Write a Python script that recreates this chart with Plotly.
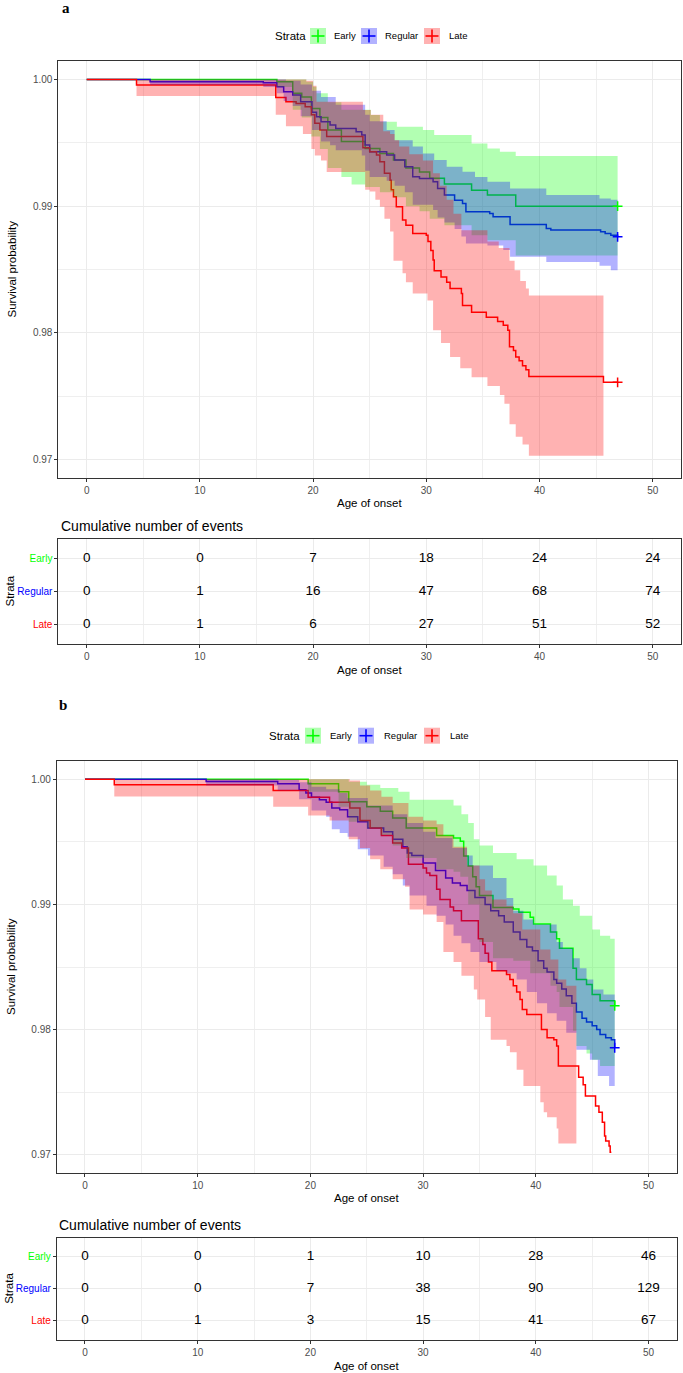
import plotly.graph_objects as go

# ======================= DATA =======================
table_times = [0, 10, 20, 30, 40, 50]
strata_names = ["Early", "Regular", "Late"]

# ---------- panel a : Kaplan-Meier estimates ----------
a_early_t = [0, 16.8, 18.2, 19.0, 19.85, 20.6, 21.3, 22.5, 24.6, 25.9, 27.1, 28.2, 29.4, 30.3, 31.6, 34.0, 35.4, 37.9, 46.9]
a_early_s = [1.0, 0.99982, 0.9989, 0.9986, 0.9977, 0.997, 0.996, 0.9951, 0.99455, 0.99416, 0.99363, 0.993, 0.9927, 0.9922, 0.99174, 0.99126, 0.99087, 0.990, 0.990]
a_early_hi_t = [0, 19.4, 20.0, 20.3, 21.3, 22.5, 25.1, 25.9, 27.4, 29.7, 30.7, 34.0, 35.4, 36.5, 37.9, 46.9]
a_early_hi_s = [1.0, 0.99982, 0.99942, 0.9989, 0.9982, 0.9976, 0.99718, 0.99666, 0.99626, 0.996, 0.99561, 0.99495, 0.99455, 0.99429, 0.99395, 0.99395]
a_early_lo_t = [0, 16.8, 18.2, 19.0, 19.85, 20.6, 21.3, 22.5, 23.4, 24.6, 25.9, 27.1, 28.2, 29.4, 30.3, 31.6, 34.0, 35.4, 37.9, 46.9]
a_early_lo_s = [1.0, 0.9994, 0.9976, 0.997, 0.9955, 0.9945, 0.993, 0.9923, 0.9917, 0.9915, 0.9911, 0.9907, 0.990, 0.9896, 0.989, 0.9885, 0.9877, 0.9873, 0.9861, 0.9861]

a_regular_t = [0, 5.6, 15.6, 16.8, 17.4, 18.2, 18.9, 19.9, 20.3, 20.7, 21.5, 22.0, 23.8, 24.3, 24.6, 25.0, 26.5, 27.2, 28.1, 28.8, 29.4, 30.6, 31.0, 31.6, 32.5, 33.2, 33.5, 35.6, 35.9, 37.4, 40.6, 41.0, 45.4, 45.8, 46.3, 46.9]
a_regular_s = [1.0, 0.99982, 0.99974, 0.99942, 0.99903, 0.99876, 0.99824, 0.9974, 0.99705, 0.99666, 0.9964, 0.99613, 0.99587, 0.99561, 0.99482, 0.99429, 0.99403, 0.99363, 0.99311, 0.99232, 0.99218, 0.99192, 0.9914, 0.99087, 0.99047, 0.99021, 0.98955, 0.98942, 0.98916, 0.98855, 0.98824, 0.98811, 0.98797, 0.98784, 0.98771, 0.98758]
a_regular_hi_t = [0, 17.6, 18.9, 19.9, 20.7, 22.0, 24.6, 25.0, 26.5, 27.2, 28.8, 29.7, 30.7, 31.8, 33.2, 34.3, 35.4, 37.4, 40.6, 45.3, 46.3, 46.9]
a_regular_hi_s = [1.0, 0.9999, 0.9996, 0.9991, 0.9986, 0.998, 0.9972, 0.9967, 0.996, 0.9952, 0.9947, 0.99416, 0.99363, 0.9931, 0.99271, 0.9923, 0.99192, 0.9914, 0.99087, 0.9906, 0.9905, 0.9905]
a_regular_lo_t = [0, 5.6, 15.6, 16.8, 17.4, 18.2, 18.9, 19.9, 20.7, 21.5, 22.0, 24.3, 24.6, 25.0, 26.5, 27.2, 28.1, 28.8, 30.6, 31.0, 31.6, 32.5, 33.1, 33.5, 35.4, 36.8, 37.4, 40.6, 45.3, 46.3, 46.9]
a_regular_lo_s = [1.0, 0.99955, 0.9994, 0.9989, 0.9983, 0.9979, 0.9971, 0.996, 0.9951, 0.9948, 0.9944, 0.994, 0.9928, 0.9923, 0.992, 0.9916, 0.9911, 0.9901, 0.9897, 0.9891, 0.9887, 0.9882, 0.9876, 0.98705, 0.9869, 0.98653, 0.986, 0.9856, 0.9853, 0.98495, 0.98495]

a_late_t = [0, 4.4, 16.7, 17.6, 18.5, 19.3, 19.85, 20.15, 20.6, 21.2, 24.4, 25.0, 25.6, 25.9, 26.3, 26.8, 26.9, 27.1, 27.35, 27.9, 28.2, 28.8, 30.0, 30.15, 30.4, 30.6, 30.7, 31.3, 31.8, 32.1, 33.1, 33.2, 34.0, 35.3, 36.3, 36.8, 37.2, 37.35, 37.7, 37.9, 38.2, 38.5, 38.8, 39.06, 45.65, 46.9]
a_late_s = [1.0, 0.99955, 0.99858, 0.99824, 0.9981, 0.99784, 0.9972, 0.99653, 0.996, 0.9955, 0.9946, 0.99429, 0.99403, 0.9935, 0.9926, 0.99205, 0.9913, 0.99074, 0.98995, 0.9889, 0.9885, 0.98784, 0.9877, 0.9872, 0.9865, 0.98574, 0.9849, 0.9844, 0.984, 0.9835, 0.9831, 0.98216, 0.98163, 0.98124, 0.9809, 0.9806, 0.9802, 0.9789, 0.9786, 0.9781, 0.9778, 0.9774, 0.9771, 0.97655, 0.9761, 0.9761]
a_late_hi_t = [0, 19.4, 20.0, 20.3, 24.4, 25.1, 26.2, 26.8, 27.2, 27.6, 28.5, 29.7, 30.6, 31.2, 31.8, 32.4, 33.1, 35.4, 36.4, 37.35, 37.8, 38.3, 38.8, 39.06, 45.65]
a_late_hi_s = [1.0, 0.9999, 0.9995, 0.99824, 0.99758, 0.9972, 0.9959, 0.9957, 0.9952, 0.9947, 0.9941, 0.9936, 0.9926, 0.9916, 0.9905, 0.9894, 0.9881, 0.9872, 0.9867, 0.9857, 0.98495, 0.9841, 0.9835, 0.98295, 0.98295]
a_late_lo_t = [0, 4.4, 16.7, 17.6, 19.1, 19.85, 20.15, 20.7, 21.2, 24.6, 25.0, 25.5, 25.9, 26.3, 26.8, 27.1, 27.9, 28.2, 28.8, 30.1, 30.6, 31.3, 32.1, 33.0, 34.0, 35.4, 36.5, 36.9, 37.35, 37.9, 38.5, 39.06, 45.65]
a_late_lo_s = [1.0, 0.99868, 0.9972, 0.9963, 0.9957, 0.9945, 0.994, 0.9936, 0.9927, 0.9913, 0.99115, 0.9905, 0.98995, 0.989, 0.988, 0.9857, 0.9847, 0.984, 0.9831, 0.98255, 0.9802, 0.9792, 0.9781, 0.9772, 0.9765, 0.9758, 0.9751, 0.9744, 0.9728, 0.9718, 0.9712, 0.9703, 0.9703]

a_cens_early_t, a_cens_early_s = [46.9], [0.990]
a_cens_regular_t, a_cens_regular_s = [46.9], [0.98758]
a_cens_late_t, a_cens_late_s = [46.9], [0.9761]

a_events_early = [0, 0, 7, 18, 24, 24]
a_events_regular = [0, 1, 16, 47, 68, 74]
a_events_late = [0, 1, 6, 27, 51, 52]

# ---------- panel b : Kaplan-Meier estimates ----------
b_early_t = [0, 19.8, 22.5, 23.4, 25.0, 26.2, 27.3, 28.5, 31.2, 32.7, 33.3, 33.6, 34.0, 34.4, 34.7, 35.0, 36.2, 38.0, 38.5, 39.5, 39.8, 41.3, 41.85, 42.1, 43.3, 43.6, 44.5, 45.0, 45.7, 47.0]
b_early_s = [1.0, 0.99963, 0.999, 0.9982, 0.9978, 0.99743, 0.9969, 0.9961, 0.9955, 0.9953, 0.99505, 0.99386, 0.99307, 0.9922, 0.9914, 0.9907, 0.98976, 0.98963, 0.98937, 0.98897, 0.98844, 0.9878, 0.98725, 0.9865, 0.9849, 0.984, 0.9836, 0.9828, 0.9823, 0.9819]
b_early_hi_t = [0, 22.5, 23.4, 25.0, 26.2, 27.8, 28.8, 32.7, 33.4, 34.0, 34.5, 35.0, 36.2, 38.3, 39.8, 41.0, 41.85, 42.4, 43.3, 43.9, 45.0, 45.7, 46.6, 47.0]
b_early_hi_s = [1.0, 1.0, 0.9998, 0.99955, 0.9993, 0.999, 0.99836, 0.9979, 0.9972, 0.9965, 0.9952, 0.9947, 0.9941, 0.9936, 0.9931, 0.9923, 0.9915, 0.9904, 0.9899, 0.9891, 0.988, 0.9875, 0.98725, 0.98725]
b_early_lo_t = [0, 19.8, 22.5, 23.4, 25.0, 26.2, 27.3, 28.5, 31.2, 32.7, 33.3, 34.0, 35.0, 36.2, 38.0, 39.5, 41.3, 41.85, 42.1, 43.3, 43.6, 44.5, 45.0, 45.7, 47.0]
b_early_lo_s = [1.0, 0.999, 0.9978, 0.9966, 0.99605, 0.99555, 0.9947, 0.9937, 0.9928, 0.9926, 0.9922, 0.990, 0.987, 0.9857, 0.9855, 0.9845, 0.9835, 0.983, 0.9818, 0.9799, 0.9787, 0.9781, 0.9776, 0.9771, 0.9766]

b_regular_t = [0, 10.75, 17.1, 19.0, 19.6, 20.1, 20.8, 21.4, 21.9, 22.6, 23.3, 24.2, 25.1, 26.5, 27.3, 28.2, 28.6, 29.0, 30.0, 31.1, 32.0, 32.6, 33.3, 33.9, 34.6, 35.5, 36.0, 36.7, 37.2, 38.0, 38.6, 39.2, 39.7, 40.2, 40.7, 41.0, 41.6, 41.85, 42.3, 42.7, 43.2, 43.6, 44.1, 44.5, 45.0, 45.4, 45.7, 46.2, 46.7, 47.0]
b_regular_s = [1.0, 0.99981, 0.99963, 0.99915, 0.9989, 0.99855, 0.99835, 0.99815, 0.9977, 0.99755, 0.997, 0.9966, 0.9961, 0.9958, 0.9952, 0.9946, 0.9941, 0.9939, 0.9933, 0.9927, 0.9921, 0.9917, 0.9915, 0.9911, 0.99055, 0.990, 0.9895, 0.9891, 0.9886, 0.9878, 0.9872, 0.9866, 0.9863, 0.9855, 0.9849, 0.9846, 0.984, 0.9837, 0.98325, 0.9827, 0.9821, 0.9814, 0.9809, 0.9806, 0.9803, 0.980, 0.9796, 0.97935, 0.9792, 0.97855]
b_regular_hi_t = [0, 17.1, 19.0, 20.1, 21.4, 22.6, 23.3, 25.1, 27.3, 28.6, 30.0, 31.1, 32.6, 33.9, 34.4, 36.2, 37.4, 38.0, 38.9, 39.8, 41.85, 42.4, 43.3, 43.9, 44.5, 45.1, 46.0, 47.0]
b_regular_hi_s = [1.0, 0.99995, 0.99975, 0.9994, 0.9992, 0.9989, 0.9985, 0.9979, 0.9972, 0.9965, 0.9958, 0.9953, 0.9945, 0.9939, 0.9931, 0.9921, 0.9905, 0.9895, 0.9888, 0.9884, 0.987, 0.9865, 0.9857, 0.9849, 0.984, 0.9832, 0.9828, 0.9824]
b_regular_lo_t = [0, 10.75, 17.1, 19.0, 20.1, 21.4, 21.9, 22.6, 23.3, 24.2, 25.1, 26.5, 27.3, 28.2, 28.8, 30.3, 31.2, 32.0, 32.7, 33.4, 34.2, 35.0, 36.5, 37.4, 38.3, 39.2, 40.1, 41.0, 41.85, 42.7, 43.6, 44.8, 45.5, 46.5, 47.0]
b_regular_lo_s = [1.0, 0.9995, 0.9991, 0.9984, 0.9975, 0.997, 0.996, 0.9957, 0.9954, 0.9944, 0.9939, 0.993, 0.9924, 0.9915, 0.9907, 0.9899, 0.9891, 0.9884, 0.9875, 0.9869, 0.9862, 0.9854, 0.9847, 0.9845, 0.984, 0.983, 0.9821, 0.9813, 0.9807, 0.97975, 0.9784, 0.9776, 0.9763, 0.9755, 0.9754]

b_late_t = [0, 2.6, 16.7, 19.8, 21.7, 23.5, 24.4, 25.3, 26.3, 27.3, 28.1, 28.7, 30.0, 30.3, 30.6, 31.2, 31.5, 32.4, 32.7, 33.4, 34.9, 35.3, 35.5, 35.8, 36.1, 37.4, 37.7, 38.0, 38.3, 38.6, 38.8, 39.2, 40.5, 41.0, 41.6, 41.85, 42.0, 43.8, 44.2, 44.4, 45.3, 45.6, 45.9, 46.1, 46.2, 46.5, 46.6, 46.7]
b_late_s = [1.0, 0.99955, 0.9991, 0.99855, 0.99815, 0.9977, 0.9967, 0.9961, 0.9955, 0.9949, 0.9945, 0.9932, 0.9929, 0.9925, 0.9923, 0.9912, 0.9904, 0.9898, 0.9895, 0.9887, 0.98725, 0.9868, 0.9861, 0.9854, 0.9847, 0.9844, 0.984, 0.9835, 0.983, 0.9824, 0.9816, 0.9812, 0.980, 0.97935, 0.9792, 0.9787, 0.9771, 0.9762, 0.9756, 0.9747, 0.9739, 0.9734, 0.9726, 0.9715, 0.9711, 0.9707, 0.9702, 0.9702]
b_late_hi_t = [0, 19.8, 23.5, 24.4, 25.3, 26.3, 27.3, 28.7, 30.0, 31.2, 31.8, 32.7, 33.9, 35.0, 35.5, 36.1, 37.4, 38.0, 38.8, 40.4, 41.3, 42.0, 42.7, 43.6]
b_late_hi_s = [1.0, 1.0, 0.9999, 0.9995, 0.9991, 0.9986, 0.9981, 0.997, 0.9967, 0.9964, 0.9955, 0.9946, 0.9931, 0.992, 0.9911, 0.9904, 0.9899, 0.9893, 0.988, 0.9864, 0.9856, 0.984, 0.9835, 0.9835]
b_late_lo_t = [0, 2.6, 16.7, 19.8, 21.7, 23.4, 24.4, 25.3, 26.2, 27.3, 28.4, 28.8, 30.0, 31.2, 31.8, 32.7, 33.4, 34.5, 34.8, 35.5, 36.0, 37.4, 37.7, 38.3, 38.9, 40.4, 40.7, 41.0, 41.85, 42.0, 43.6]
b_late_lo_s = [1.0, 0.99862, 0.9978, 0.9971, 0.9967, 0.9952, 0.9945, 0.9936, 0.9928, 0.992, 0.9914, 0.9896, 0.9892, 0.9886, 0.9862, 0.9854, 0.9843, 0.9832, 0.9824, 0.981, 0.9792, 0.9787, 0.9782, 0.9768, 0.9755, 0.9742, 0.9734, 0.973, 0.9721, 0.9709, 0.9709]

b_cens_early_t, b_cens_early_s = [47.0], [0.9819]
b_cens_regular_t, b_cens_regular_s = [47.0], [0.97855]
b_cens_late_t, b_cens_late_s = [], []

b_events_early = [0, 0, 1, 10, 28, 46]
b_events_regular = [0, 0, 7, 38, 90, 129]
b_events_late = [0, 1, 3, 15, 41, 67]

# ======================= STYLE / LAYOUT =======================
W, H = 683, 1373
FONT = "Liberation Sans, Arial, sans-serif"
LINE = {"Early": "#00FF00", "Regular": "#0000FF", "Late": "#FF0000"}
FILL = {"Early": "rgba(0,255,0,0.3)", "Regular": "rgba(0,0,255,0.3)", "Late": "rgba(255,0,0,0.3)"}


def fx(p):
    return p / W


def fy(p):
    return 1 - p / H


fig = go.Figure()

panels = [
    dict(xa="x", ya="y", xt="x2", yt="y2",
         curves=[("Early", a_early_t, a_early_s, a_early_hi_t, a_early_hi_s, a_early_lo_t, a_early_lo_s, a_cens_early_t, a_cens_early_s),
                 ("Regular", a_regular_t, a_regular_s, a_regular_hi_t, a_regular_hi_s, a_regular_lo_t, a_regular_lo_s, a_cens_regular_t, a_cens_regular_s),
                 ("Late", a_late_t, a_late_s, a_late_hi_t, a_late_hi_s, a_late_lo_t, a_late_lo_s, a_cens_late_t, a_cens_late_s)],
         events=[a_events_early, a_events_regular, a_events_late]),
    dict(xa="x3", ya="y3", xt="x4", yt="y4",
         curves=[("Early", b_early_t, b_early_s, b_early_hi_t, b_early_hi_s, b_early_lo_t, b_early_lo_s, b_cens_early_t, b_cens_early_s),
                 ("Regular", b_regular_t, b_regular_s, b_regular_hi_t, b_regular_hi_s, b_regular_lo_t, b_regular_lo_s, b_cens_regular_t, b_cens_regular_s),
                 ("Late", b_late_t, b_late_s, b_late_hi_t, b_late_hi_s, b_late_lo_t, b_late_lo_s, b_cens_late_t, b_cens_late_s)],
         events=[b_events_early, b_events_regular, b_events_late]),
]

for p in panels:
    # survival step lines (drawn first, ribbons go over them like ggplot)
    for name, t, s, *_ in p["curves"]:
        fig.add_trace(go.Scatter(x=t, y=s, mode="lines", xaxis=p["xa"], yaxis=p["ya"],
                                 line=dict(color=LINE[name], width=1.5, shape="hv"),
                                 showlegend=False, hoverinfo="skip"))
    # confidence ribbons
    for name, t, s, th, sh, tl, sl, *_ in p["curves"]:
        fig.add_trace(go.Scatter(x=th, y=sh, mode="lines", xaxis=p["xa"], yaxis=p["ya"],
                                 line=dict(width=0, shape="hv", color=LINE[name]),
                                 showlegend=False, hoverinfo="skip"))
        fig.add_trace(go.Scatter(x=tl, y=sl, mode="lines", xaxis=p["xa"], yaxis=p["ya"],
                                 line=dict(width=0, shape="hv", color=LINE[name]),
                                 fill="tonexty", fillcolor=FILL[name],
                                 showlegend=False, hoverinfo="skip"))
    # censor marks
    for name, *_rest in p["curves"]:
        ct, cs = _rest[-2], _rest[-1]
        if ct:
            fig.add_trace(go.Scatter(x=ct, y=cs, mode="markers", xaxis=p["xa"], yaxis=p["ya"],
                                     marker=dict(symbol="cross-thin", size=7,
                                                 line=dict(width=1.5, color=LINE[name])),
                                     showlegend=False, hoverinfo="skip"))
    # risk table text
    for name, ev in zip(strata_names, p["events"]):
        fig.add_trace(go.Scatter(x=table_times, y=[name] * len(table_times), mode="text",
                                 text=[str(v) for v in ev], xaxis=p["xt"], yaxis=p["yt"],
                                 textfont=dict(size=13.5, color="#000000", family=FONT),
                                 textposition="middle center", showlegend=False, hoverinfo="skip"))

tickfont = dict(size=10, color="#4D4D4D", family=FONT)
common = dict(ticks="outside", ticklen=3, tickwidth=1, tickcolor="#333333", tickfont=tickfont,
              showline=True, mirror=True, linecolor="#333333", linewidth=1,
              showgrid=True, gridcolor="#EBEBEB", gridwidth=1, zeroline=False, fixedrange=True)


def xaxis(x0, x1, y_anchor):
    return dict(domain=[fx(x0), fx(x1)], anchor=y_anchor, range=[-2.5, 52.5], tick0=0, dtick=10,
                minor=dict(dtick=5, tick0=0, showgrid=True, gridcolor="#EFEFEF", gridwidth=0.6),
                **common)


def yaxis_main(top, bot, x_anchor):
    return dict(domain=[fy(bot), fy(top)], anchor=x_anchor, range=[0.96855, 1.00145],
                tick0=0.97, dtick=0.01, tickformat=".2f",
                minor=dict(dtick=0.005, tick0=0.97, showgrid=True, gridcolor="#EFEFEF", gridwidth=0.6),
                **common)


colored = ['<span style="color:%s">%s</span>' % (LINE[n], n) for n in strata_names]


def yaxis_table(top, bot, x_anchor):
    d = dict(common)
    d["tickfont"] = dict(size=10, color="#4D4D4D", family=FONT)
    return dict(domain=[fy(bot), fy(top)], anchor=x_anchor, type="category",
                categoryorder="array", categoryarray=list(reversed(strata_names)),
                range=[-0.6, 2.6], tickmode="array", tickvals=strata_names, ticktext=colored,
                **d)


# pixel geometry of the four panels
A_X0, A_X1 = 58.4, 681.0
B_X0, B_X1 = 56.8, 676.7
A_TOP, A_BOT = 61.0, 478.0
AT_TOP, AT_BOT = 538.7, 644.3
B_TOP, B_BOT = 761.0, 1173.0
BT_TOP, BT_BOT = 1237.7, 1340.0

fig.update_layout(
    width=W, height=H, margin=dict(l=0, r=0, t=0, b=0), autosize=False,
    paper_bgcolor="white", plot_bgcolor="white",
    font=dict(family=FONT, color="#000000"),
    showlegend=False,
    xaxis=xaxis(A_X0, A_X1, "y"), yaxis=yaxis_main(A_TOP, A_BOT, "x"),
    xaxis2=xaxis(A_X0, A_X1, "y2"), yaxis2=yaxis_table(AT_TOP, AT_BOT, "x2"),
    xaxis3=xaxis(B_X0, B_X1, "y3"), yaxis3=yaxis_main(B_TOP, B_BOT, "x3"),
    xaxis4=xaxis(B_X0, B_X1, "y4"), yaxis4=yaxis_table(BT_TOP, BT_BOT, "x4"),
)

ann = []
shapes = []


def text(x, y, s, size, xanchor="center", angle=0, family=FONT, color="#000000"):
    ann.append(dict(x=fx(x), y=fy(y), xref="paper", yref="paper", text=s, showarrow=False,
                    xanchor=xanchor, yanchor="middle", textangle=angle,
                    font=dict(size=size, family=family, color=color)))


# panel letters
text(66, 8, "<b>a</b>", 15, family="Liberation Serif, Times New Roman, serif")
text(63, 705, "<b>b</b>", 15, family="Liberation Serif, Times New Roman, serif")

# axis titles
for (x0, x1, top, bot, ttop, tbot) in [(A_X0, A_X1, A_TOP, A_BOT, AT_TOP, AT_BOT),
                                       (B_X0, B_X1, B_TOP, B_BOT, BT_TOP, BT_BOT)]:
    xc = (x0 + x1) / 2
    text(11, (top + bot) / 2, "Survival probability", 11.5, angle=-90)
    text(xc, bot + 25, "Age of onset", 11.5)
    text(x0 + 0.5, ttop - 12.5, "Cumulative number of events", 14, xanchor="left")
    text(xc, tbot + 25.5, "Age of onset", 11.5)
    text(9, (ttop + tbot) / 2, "Strata", 11.5, angle=-90)

# legends (ggplot-style keys: tinted box with a cross)
legends = [dict(y=36.0, title_x=273.0, boxes=[310.0, 361.0, 424.0], labels=[332.0, 383.0, 447.0]),
           dict(y=735.7, title_x=266.5, boxes=[305.0, 358.0, 424.0], labels=[328.0, 381.5, 448.0])]
for lg in legends:
    yc = lg["y"]
    text(lg["title_x"], yc, "Strata", 11.5, xanchor="left")
    for name, bx, lx in zip(strata_names, lg["boxes"], lg["labels"]):
        shapes.append(dict(type="rect", xref="paper", yref="paper", x0=fx(bx), x1=fx(bx + 16),
                           y0=fy(yc + 8), y1=fy(yc - 8), fillcolor=FILL[name], line=dict(width=0)))
        shapes.append(dict(type="line", xref="paper", yref="paper", x0=fx(bx + 1.5), x1=fx(bx + 14.5),
                           y0=fy(yc), y1=fy(yc), line=dict(color=LINE[name], width=1.6)))
        shapes.append(dict(type="line", xref="paper", yref="paper", x0=fx(bx + 8), x1=fx(bx + 8),
                           y0=fy(yc + 6.5), y1=fy(yc - 6.5), line=dict(color=LINE[name], width=1.6)))
        text(lx, yc, name, 9.5, xanchor="left")

fig.update_layout(annotations=ann, shapes=shapes)

fig.write_html("out.html", include_plotlyjs=True, config={"displayModeBar": False},
               post_script="document.body.style.margin='0px';document.body.style.overflow='hidden';")
